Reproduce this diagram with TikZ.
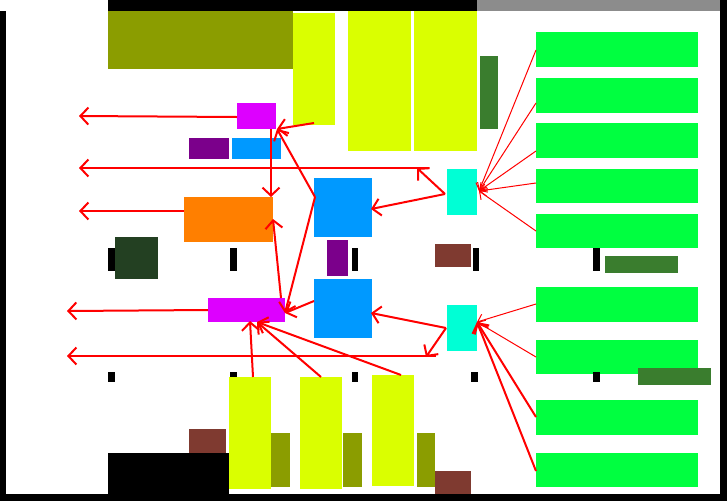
\documentclass[tikz,border=0pt]{standalone}
\usetikzlibrary{fit,arrows.meta}
\definecolor{cOlive}{RGB}{139,157,0}
\definecolor{cYellow}{RGB}{218,255,0}
\definecolor{cGreen}{RGB}{0,255,64}
\definecolor{cDkGreen}{RGB}{58,125,46}
\definecolor{cDarkest}{RGB}{35,64,34}
\definecolor{cCyan}{RGB}{0,255,213}
\definecolor{cBlue}{RGB}{0,153,255}
\definecolor{cMagenta}{RGB}{221,0,255}
\definecolor{cPurple}{RGB}{123,0,139}
\definecolor{cOrange}{RGB}{255,127,0}
\definecolor{cBrown}{RGB}{127,58,48}
\definecolor{cGray}{RGB}{140,140,140}
\tikzset{
  rbox/.style={fit={#1}, inner sep=0pt, outer sep=0pt},
  thickarrow/.style={draw=red, line width=2pt, -{Straight Barb[length=8pt,width=17pt]}},
  thinarrow/.style={draw=red, line width=1pt, -{Straight Barb[length=6pt,width=12pt]}}
}
\begin{document}
\begin{tikzpicture}[x=1pt,y=-1pt]
\useasboundingbox (0,0) rectangle (727,501);
\fill[white] (0,0) rectangle (727,501);
% frame
\node[rbox={(108,0)(477,11)}, fill=black] (topbar) {};
\node[rbox={(477,0)(727,11)}, fill=cGray] (graybar) {};
\node[rbox={(0,11)(6,501)}, fill=black] (leftbar) {};
\node[rbox={(720,0)(727,501)}, fill=black] (rightbar) {};
\node[rbox={(0,494)(727,501)}, fill=black] (bottombar) {};
\node[rbox={(108,453)(229,501)}, fill=black] (bottomblock) {};
% top area
\node[rbox={(108,11)(293,69)}, fill=cOlive] (olivetop) {};
\node[rbox={(293,13)(335,125)}, fill=cYellow] (yt1) {};
\node[rbox={(348,11)(411,151)}, fill=cYellow] (yt2) {};
\node[rbox={(414,11)(477,151)}, fill=cYellow] (yt3) {};
\node[rbox={(480,56)(498,129)}, fill=cDkGreen] (dgv) {};
% green racks
\node[rbox={(536,32)(698,67)}, fill=cGreen] (g1) {};
\node[rbox={(536,78)(698,113)}, fill=cGreen] (g2) {};
\node[rbox={(536,123)(698,158)}, fill=cGreen] (g3) {};
\node[rbox={(536,169)(698,203)}, fill=cGreen] (g4) {};
\node[rbox={(536,214)(698,248)}, fill=cGreen] (g5) {};
\node[rbox={(536,287)(698,322)}, fill=cGreen] (g6) {};
\node[rbox={(536,340)(698,374)}, fill=cGreen] (g7) {};
\node[rbox={(536,400)(698,435)}, fill=cGreen] (g8) {};
\node[rbox={(536,453)(698,487)}, fill=cGreen] (g9) {};
\node[rbox={(605,256)(678,273)}, fill=cDkGreen] (dgh1) {};
\node[rbox={(638,368)(711,385)}, fill=cDkGreen] (dgh2) {};
% middle
\node[rbox={(447,169)(477,215)}, fill=cCyan] (cy1) {};
\node[rbox={(447,305)(477,351)}, fill=cCyan] (cy2) {};
\node[rbox={(314,178)(372,237)}, fill=cBlue] (bl1) {};
\node[rbox={(314,279)(372,338)}, fill=cBlue] (bl2) {};
\node[rbox={(327,240)(348,276)}, fill=cPurple] (pu2) {};
\node[rbox={(435,244)(471,267)}, fill=cBrown] (br1) {};
\node[rbox={(115,237)(158,279)}, fill=cDarkest] (dk) {};
\node[rbox={(237,103)(276,129)}, fill=cMagenta] (mg1) {};
\node[rbox={(189,138)(229,159)}, fill=cPurple] (pu1) {};
\node[rbox={(232,138)(281,159)}, fill=cBlue] (bls) {};
\node[rbox={(184,197)(273,242)}, fill=cOrange] (or) {};
\node[rbox={(208,298)(285,322)}, fill=cMagenta] (mg2) {};
% markers
\node[rbox={(108,248)(115,271)}, fill=black] (m1) {};
\node[rbox={(230,248)(237,271)}, fill=black] (m2) {};
\node[rbox={(352,248)(358,271)}, fill=black] (m3) {};
\node[rbox={(473,248)(479,271)}, fill=black] (m4) {};
\node[rbox={(593,248)(600,271)}, fill=black] (m5) {};
\node[rbox={(108,372)(115,382)}, fill=black] (n1) {};
\node[rbox={(230,372)(237,382)}, fill=black] (n2) {};
\node[rbox={(352,372)(358,382)}, fill=black] (n3) {};
\node[rbox={(471,372)(478,382)}, fill=black] (n4) {};
\node[rbox={(593,372)(600,382)}, fill=black] (n5) {};
% bottom
\node[rbox={(229,377)(271,489)}, fill=cYellow] (yb1) {};
\node[rbox={(271,433)(290,487)}, fill=cOlive] (ob1) {};
\node[rbox={(300,377)(342,489)}, fill=cYellow] (yb2) {};
\node[rbox={(343,433)(362,487)}, fill=cOlive] (ob2) {};
\node[rbox={(372,375)(414,486)}, fill=cYellow] (yb3) {};
\node[rbox={(417,433)(435,487)}, fill=cOlive] (ob3) {};
\node[rbox={(435,471)(471,494)}, fill=cBrown] (br2) {};
\node[rbox={(189,429)(226,453)}, fill=cBrown] (br3) {};
% arrow end points
\coordinate (L1) at (79,116);
\coordinate (L2) at (79,168);
\coordinate (L3) at (79,211);
\coordinate (L4) at (67,311);
\coordinate (L5) at (67,356);
\coordinate (s2) at (428,168);
\coordinate (s5) at (436,356);
\coordinate (k1) at (417,168);
\coordinate (k2) at (426,357);
\coordinate (c1w) at (445,194);
\coordinate (c2w) at (446,328);
\coordinate (c1e) at (479,191);
\coordinate (c2e) at (477,322);
\coordinate (b1e) at (371,209);
\coordinate (b2e) at (371,313);
\coordinate (b1w) at (315,197);
\coordinate (b2w) at (314,301);
\coordinate (mg1se) at (277,129);
\coordinate (mg1s) at (271,129);
\coordinate (ortop) at (271,197);
\coordinate (orin) at (273,219);
\coordinate (mg2n) at (281,298);
\coordinate (mg2e) at (285,313);
\coordinate (mg2a) at (250,321);
\coordinate (mg2b) at (257,322);
\coordinate (yt1b) at (314,123);
\coordinate (yb1t) at (253,377);
\coordinate (yb2t) at (321,377);
\coordinate (yb3t) at (401,375);
\coordinate (g1w) at (536,50);
\coordinate (g2w) at (536,103);
\coordinate (g3w) at (536,151);
\coordinate (g4w) at (536,183);
\coordinate (g5w) at (536,231);
\coordinate (g6w) at (536,304);
\coordinate (g7w) at (536,357);
\coordinate (g8w) at (536,417);
\coordinate (g9w) at (536,471);
\coordinate (mg1w) at (237,117);
\coordinate (orw) at (184,211);
\coordinate (mg2w) at (208,310);
% arrows
\draw[thickarrow] (mg1w) -- (L1);
\draw[thickarrow] (s2) -- (L2);
\draw[thickarrow] (orw) -- (L3);
\draw[thickarrow] (c1w) -- (k1);
\draw[thickarrow] (c1w) -- (b1e);
\draw[thinarrow] (g1w) -- (c1e);
\draw[thinarrow] (g2w) -- (c1e);
\draw[thinarrow] (g3w) -- (c1e);
\draw[thinarrow] (g4w) -- (c1e);
\draw[thinarrow] (g5w) -- (c1e);
\draw[thickarrow] (yt1b) -- (mg1se);
\draw[thickarrow] (mg1s) -- (ortop);
\draw[thickarrow] (mg2n) -- (orin);
\draw[thickarrow] (b1w) -- (mg1se);
\draw[thickarrow] (b1w) -- (mg2e);
\draw[thickarrow] (b2w) -- (mg2e);
\draw[thickarrow] (mg2w) -- (L4);
\draw[thickarrow] (s5) -- (L5);
\draw[thickarrow] (c2w) -- (k2);
\draw[thickarrow] (c2w) -- (b2e);
\draw[thinarrow] (g6w) -- (c2e);
\draw[thinarrow] (g7w) -- (c2e);
\draw[thickarrow] (g8w) -- (c2e);
\draw[thickarrow] (g9w) -- (c2e);
\draw[thickarrow] (yb1t) -- (mg2a);
\draw[thickarrow] (yb2t) -- (mg2b);
\draw[thickarrow] (yb3t) -- (mg2b);
\end{tikzpicture}
\end{document}
